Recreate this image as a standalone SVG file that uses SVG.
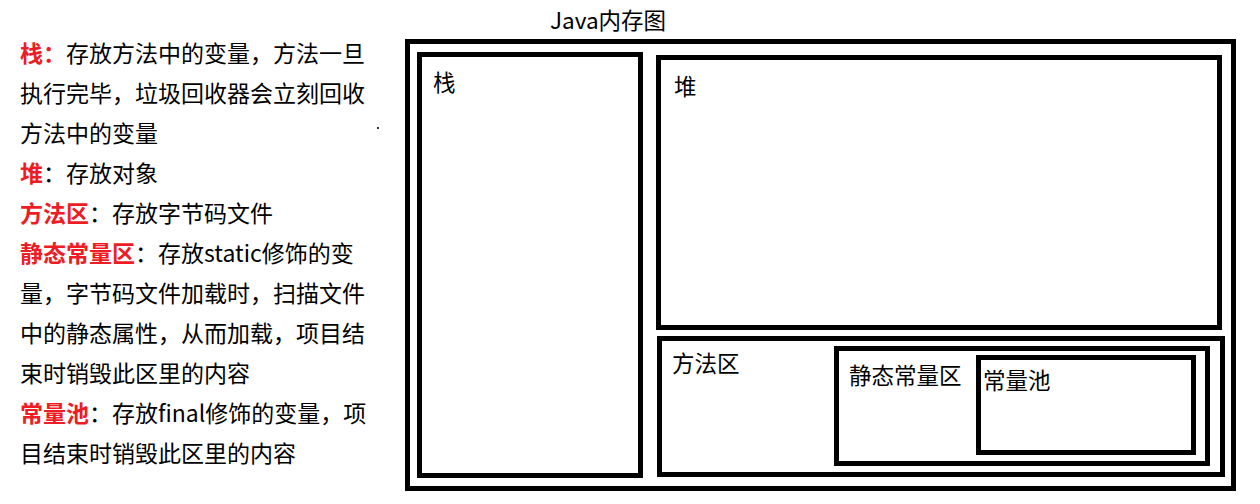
<svg xmlns="http://www.w3.org/2000/svg" width="1260" height="504" viewBox="0 0 1260 504">
<style>
text{font-family:"Microsoft YaHei","Noto Sans CJK SC","Noto Sans",sans-serif;fill:#000}
.desc{font-size:23px}
.red{fill:#ee1c25;font-weight:bold}
.box{fill:none;stroke:#000;stroke-width:5}
.lbl{font-size:22.5px}
</style>
<rect width="1260" height="504" fill="#fff"/>
<g id="description">
<text class="desc" x="20" y="62"><tspan class="red">栈：</tspan>存放方法中的变量，方法一旦</text>
<text class="desc" x="20" y="102">执行完毕，垃圾回收器会立刻回收</text>
<text class="desc" x="20" y="142">方法中的变量</text>
<text class="desc" x="20" y="182"><tspan class="red">堆</tspan>：存放对象</text>
<text class="desc" x="20" y="222"><tspan class="red">方法区</tspan>：存放字节码文件</text>
<text class="desc" x="20" y="262"><tspan class="red">静态常量区</tspan>：存放static修饰的变</text>
<text class="desc" x="20" y="302">量，字节码文件加载时，扫描文件</text>
<text class="desc" x="20" y="342">中的静态属性，从而加载，项目结</text>
<text class="desc" x="20" y="382">束时销毁此区里的内容</text>
<text class="desc" x="20" y="422"><tspan class="red">常量池</tspan>：存放final修饰的变量，项</text>
<text class="desc" x="20" y="462">目结束时销毁此区里的内容</text>
<rect x="377" y="127" width="2" height="2" fill="#333"/>
</g>
<g id="title">
<text x="550" y="29" font-size="22.5">Java内存图</text>
</g>
<g id="memory">
<rect class="box" x="407.5" y="41.5" width="826" height="447"/>
</g>
<g id="stack">
<rect class="box" x="419.5" y="54.5" width="221" height="421"/>
<text class="lbl" x="433" y="91">栈</text>
</g>
<g id="heap">
<rect class="box" x="658.5" y="57.5" width="561" height="270"/>
<text class="lbl" x="674" y="95">堆</text>
</g>
<g id="method-area">
<rect class="box" x="659.5" y="338.5" width="563" height="136"/>
<text class="lbl" x="672" y="372">方法区</text>
</g>
<g id="static-area">
<rect class="box" x="836.5" y="348.5" width="371" height="115"/>
<text class="lbl" x="849" y="384">静态常量区</text>
</g>
<g id="constant-pool">
<rect class="box" x="978.5" y="357.5" width="215" height="95"/>
<text class="lbl" x="983" y="389">常量池</text>
</g>
<g id="connectors"/>
</svg>
